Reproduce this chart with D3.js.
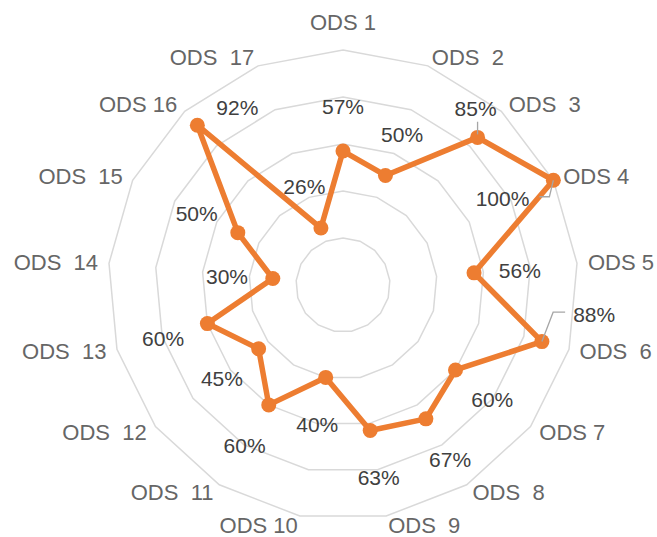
<!DOCTYPE html>
<html>
<head>
<meta charset="utf-8">
<script src="https://cdn.jsdelivr.net/npm/d3@7"></script>
<style>
  html, body { margin: 0; padding: 0; background: #fff; }
  svg { display: block; font-family: "Liberation Sans", Arial, sans-serif; }
  text { white-space: pre; }
</style>
</head>
<body>
<svg id="chart"></svg>
<script>
// categories (the double spaces are in the original labels)
const categories = ["ODS 1", "ODS  2", "ODS  3", "ODS 4", "ODS 5", "ODS  6", "ODS 7", "ODS  8", "ODS  9",
  "ODS 10", "ODS  11", "ODS  12", "ODS  13", "ODS  14", "ODS  15", "ODS 16", "ODS  17"];
const values = [57, 50, 85, 100, 56, 88, 60, 67, 63, 40, 60, 45, 60, 30, 50, 92, 26];
const ringTicks = [20, 40, 60, 80, 100];

// data labels that were dragged by hand in the original, offset from the default spot
const movedLabels = {
  2: { dx: -33, dy: 3, leader: true },
  3: { dx: -92, dy: 37, leader: true },
  5: { dx: 8, dy: -42, leader: true },
  15: { dx: 71, dy: 14, leader: false }
};

const width = 657, height = 537;
const cx = 343, cy = 285, radius = 235;
const orange = "#ED7D31";

const svg = d3.select("#chart").attr("width", width).attr("height", height);

const angle = d3.scalePoint().domain(d3.range(categories.length)).range([0, 2 * Math.PI * (1 - 1 / categories.length)]);
const r = d3.scaleLinear().domain([0, 100]).range([0, radius]);

const pos = (i, v) => {
  const a = angle(i);
  return [cx + r(v) * Math.sin(a), cy - r(v) * Math.cos(a)];
};

// rings
const ringLine = d3.line().curve(d3.curveLinearClosed);
svg.append("g")
  .selectAll("path")
  .data(ringTicks)
  .join("path")
  .attr("d", t => ringLine(categories.map((_, i) => pos(i, t))))
  .attr("fill", "none")
  .attr("stroke", "#d9d9d9")
  .attr("stroke-width", 1.5);

// category labels
svg.append("g")
  .selectAll("text")
  .data(categories)
  .join("text")
  .each(function (d, i) {
    const a = angle(i), s = Math.sin(a), c = Math.cos(a);
    const [vx, vy] = pos(i, 100);
    const t = d3.select(this);
    if (Math.abs(s) < 0.05) {
      t.attr("x", vx).attr("y", vy - 28).attr("text-anchor", "middle");
    } else {
      t.attr("x", vx + 11 * s).attr("y", vy - 9 * c).attr("text-anchor", s > 0 ? "start" : "end");
    }
  })
  .attr("dy", "0.35em")
  .attr("fill", "#666666")
  .style("font-size", "22px")
  .text(d => d);

// series line
svg.append("path")
  .attr("d", ringLine(values.map((v, i) => pos(i, v))))
  .attr("fill", "none")
  .attr("stroke", orange)
  .attr("stroke-width", 5.5)
  .attr("stroke-linejoin", "round");

svg.append("g")
  .selectAll("circle")
  .data(values)
  .join("circle")
  .attr("cx", (v, i) => pos(i, v)[0])
  .attr("cy", (v, i) => pos(i, v)[1])
  .attr("r", 7.5)
  .attr("fill", orange);

// data labels
const labelPos = values.map((v, i) => {
  const a = angle(i);
  const rr = r(v) + 46;
  let x = cx + rr * Math.sin(a), y = cy - rr * Math.cos(a) + 2;
  const m = movedLabels[i];
  if (m) { x += m.dx; y += m.dy; }
  return { x, y, v, i, leader: !!(m && m.leader) };
});

const dataLabels = svg.append("g")
  .selectAll("text")
  .data(labelPos)
  .join("text")
  .attr("x", d => d.x)
  .attr("y", d => d.y)
  .attr("dy", "0.35em")
  .attr("text-anchor", "middle")
  .attr("fill", "#404040")
  .style("font-size", "21px")
  .text(d => d.v + "%");

// leader lines for moved labels
const leaders = svg.append("g");
dataLabels.filter(d => d.leader).each(function (d) {
  const box = this.getBBox();
  const [px, py] = pos(d.i, d.v);
  let pts;
  if (px > box.x && px < box.x + box.width) {
    // label above or below the point
    const yEdge = py > d.y ? box.y + box.height + 2 : box.y - 2;
    pts = [[px, yEdge], [px, py - 3 * Math.sign(py - d.y)]];
  } else if (px > box.x + box.width) {
    const sx = box.x + box.width + 10;
    const ly = d.y - 2;
    pts = [[sx, ly], [sx + 10, ly], [px, py]];
  } else {
    const sx = box.x - 8;
    const ly = d.y - 2;
    pts = [[sx, ly], [sx - 12, ly], [px, py]];
  }
  leaders.append("path")
    .attr("d", d3.line()(pts))
    .attr("fill", "none")
    .attr("stroke", "#a6a6a6")
    .attr("stroke-width", 1.3);
});
</script>
</body>
</html>
